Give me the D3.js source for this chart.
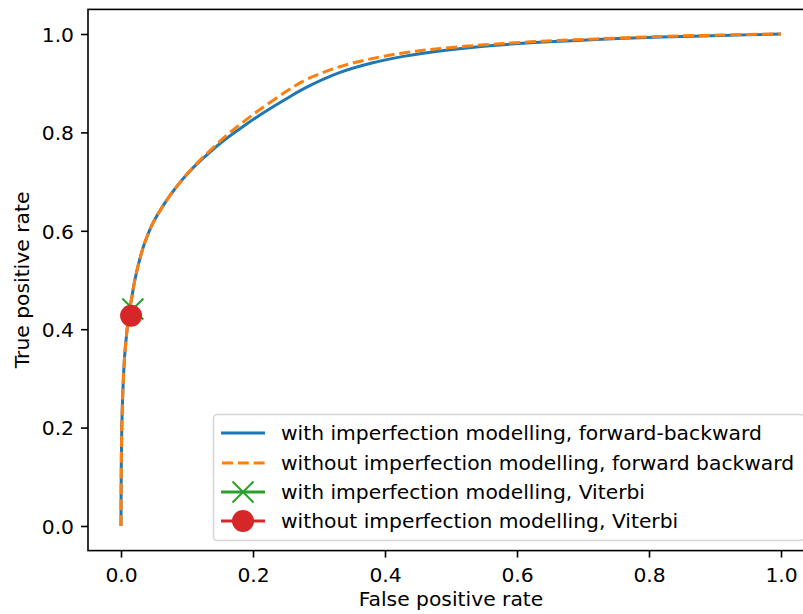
<!DOCTYPE html>
<html>
<head>
<meta charset="utf-8">
<script src="https://cdn.jsdelivr.net/npm/d3@7"></script>
<style>
    html, body { margin: 0; padding: 0; background: #ffffff; }
    svg { display: block; font-family: "DejaVu Sans", sans-serif; }
</style>
</head>
<body>
<svg id="chart" width="803" height="614"></svg>
<script>
// ============================================================
// Data — ROC curves
// ============================================================
const fprPoints = [0, 0.0003, 0.0012, 0.003, 0.0055, 0.0085, 0.012, 0.016, 0.021, 0.027,
    0.035, 0.047, 0.061, 0.076, 0.091, 0.109, 0.134, 0.16, 0.185, 0.21,
    0.25, 0.28, 0.33, 0.38, 0.43, 0.48, 0.55, 0.62, 0.72, 0.82, 0.91, 1.0];

// with imperfection modelling, forward-backward
const tprWithFB = [0, 0.10, 0.20, 0.28, 0.345, 0.39, 0.43, 0.462, 0.50, 0.535,
    0.572, 0.612, 0.645, 0.675, 0.701, 0.728, 0.759, 0.788, 0.812, 0.835,
    0.868, 0.891, 0.921, 0.941, 0.955, 0.965, 0.975, 0.982, 0.989, 0.994, 0.997, 1.0];

// without imperfection modelling, forward backward
const tprWithoutFB = [0, 0.10, 0.20, 0.28, 0.345, 0.39, 0.43, 0.462, 0.50, 0.535,
    0.572, 0.612, 0.645, 0.675, 0.701, 0.729, 0.762, 0.794, 0.821, 0.846,
    0.883, 0.907, 0.933, 0.950, 0.962, 0.970, 0.978, 0.984, 0.990, 0.995, 0.998, 1.0];

// Viterbi single operating points [fpr, tpr]
const viterbiWith = [0.018, 0.441];
const viterbiWithout = [0.0153, 0.4275];

const xTicks = [0.0, 0.2, 0.4, 0.6, 0.8, 1.0];
const yTicks = [0.0, 0.2, 0.4, 0.6, 0.8, 1.0];

const legendLabels = [
    "with imperfection modelling, forward-backward",
    "without imperfection modelling, forward backward",
    "with imperfection modelling, Viterbi",
    "without imperfection modelling, Viterbi"
];

// matplotlib default colours
const COLORS = { blue: "#1f77b4", orange: "#ff7f0e", green: "#2ca02c", red: "#d62728" };

// ============================================================
// Layout — axes box runs past the right edge of the picture
// ============================================================
const svg = d3.select("#chart");
const plot = { left: 88, right: 814, top: 9.4, bottom: 550.6 };
const FONT = 20.3;
const LW = 3;            // line width of the curves
const DASH = "11,4.8";   // matplotlib "--" at this scale

const x = d3.scaleLinear().domain([-0.05, 1.05]).range([plot.left, plot.right]);
const y = d3.scaleLinear().domain([-0.05, 1.05]).range([plot.bottom, plot.top]);

// ---- axes (ticks + labels) ----
const xAxis = d3.axisBottom(x).tickValues(xTicks).tickFormat(d3.format(".1f"))
    .tickSize(7).tickSizeOuter(0).tickPadding(7);
const yAxis = d3.axisLeft(y).tickValues(yTicks).tickFormat(d3.format(".1f"))
    .tickSize(7).tickSizeOuter(0).tickPadding(7);

const gx = svg.append("g").attr("transform", `translate(0,${plot.bottom})`).call(xAxis);
const gy = svg.append("g").attr("transform", `translate(${plot.left},0)`).call(yAxis);

[gx, gy].forEach(function (g) {
    g.select(".domain").remove();
    g.selectAll(".tick line").attr("stroke", "#000").attr("stroke-width", 1.6);
    g.selectAll(".tick text").attr("fill", "#000")
        .style("font-size", FONT + "px").style("font-family", "DejaVu Sans");
});
// put x tick labels on the reference baseline
gx.selectAll(".tick text").attr("y", 31).attr("dy", null);
gy.selectAll(".tick text").attr("x", -14).attr("dy", "0.36em");

// axis titles
svg.append("text")
    .attr("x", (plot.left + plot.right) / 2).attr("y", 606)
    .attr("text-anchor", "middle").style("font-size", FONT + "px")
    .text("False positive rate");

svg.append("text")
    .attr("transform", `translate(29,${(plot.top + plot.bottom) / 2}) rotate(-90)`)
    .attr("text-anchor", "middle").style("font-size", FONT + "px")
    .text("True positive rate");

// ============================================================
// Curves
// ============================================================
svg.append("clipPath").attr("id", "plot-clip")
    .append("rect").attr("x", plot.left).attr("y", plot.top)
    .attr("width", plot.right - plot.left).attr("height", plot.bottom - plot.top);

const curveLine = d3.line()
    .x(function (d) { return x(d[0]); })
    .y(function (d) { return y(d[1]); })
    .curve(d3.curveCatmullRom.alpha(0.5));

const plotLayer = svg.append("g").attr("clip-path", "url(#plot-clip)");

plotLayer.append("path")
    .datum(d3.zip(fprPoints, tprWithFB))
    .attr("d", curveLine)
    .attr("fill", "none").attr("stroke", COLORS.blue).attr("stroke-width", LW);

plotLayer.append("path")
    .datum(d3.zip(fprPoints, tprWithoutFB))
    .attr("d", curveLine)
    .attr("fill", "none").attr("stroke", COLORS.orange).attr("stroke-width", LW)
    .attr("stroke-dasharray", DASH);

// Viterbi markers
function drawCross(g, cx, cy, half, color) {
    g.append("path")
        .attr("d", `M${cx - half},${cy - half}L${cx + half},${cy + half}M${cx - half},${cy + half}L${cx + half},${cy - half}`)
        .attr("stroke", color).attr("stroke-width", 2).attr("fill", "none");
}

drawCross(plotLayer, x(viterbiWith[0]), y(viterbiWith[1]), 10.5, COLORS.green);

plotLayer.append("circle")
    .attr("cx", x(viterbiWithout[0])).attr("cy", y(viterbiWithout[1]))
    .attr("r", 11).attr("fill", COLORS.red);

// ============================================================
// Frame (spines)
// ============================================================
svg.append("rect")
    .attr("x", plot.left).attr("y", plot.top)
    .attr("width", plot.right - plot.left).attr("height", plot.bottom - plot.top)
    .attr("fill", "none").attr("stroke", "#000").attr("stroke-width", 1.6);

// ============================================================
// Legend — lower right
// ============================================================
const legend = svg.append("g");
const legBox = { x: 213.5, y: 414.5, w: 591, h: 126 };
legend.append("rect")
    .attr("x", legBox.x).attr("y", legBox.y).attr("width", legBox.w).attr("height", legBox.h)
    .attr("rx", 4).attr("fill", "#ffffff").attr("fill-opacity", 0.8)
    .attr("stroke", "#d6d6d6").attr("stroke-width", 1.6);

const rowY = [433, 463, 492, 521];
const handleX0 = 221, handleX1 = 265, handleMid = (handleX0 + handleX1) / 2;
const rowColors = [COLORS.blue, COLORS.orange, COLORS.green, COLORS.red];

legendLabels.forEach(function (label, i) {
    const ry = rowY[i];
    const color = rowColors[i];
    const line = legend.append("line")
        .attr("x1", handleX0).attr("x2", handleX1).attr("y1", ry).attr("y2", ry)
        .attr("stroke", color).attr("stroke-width", LW);
    if (i === 1) line.attr("stroke-dasharray", DASH).attr("x1", handleX0 + 1);
    if (i === 2) drawCross(legend, handleMid, ry, 10.5, color);
    if (i === 3) legend.append("circle").attr("cx", handleMid).attr("cy", ry).attr("r", 11).attr("fill", color);

    legend.append("text")
        .attr("x", 281).attr("y", ry).attr("dy", "0.36em")
        .style("font-size", FONT + "px")
        .text(label);
});
</script>
</body>
</html>
